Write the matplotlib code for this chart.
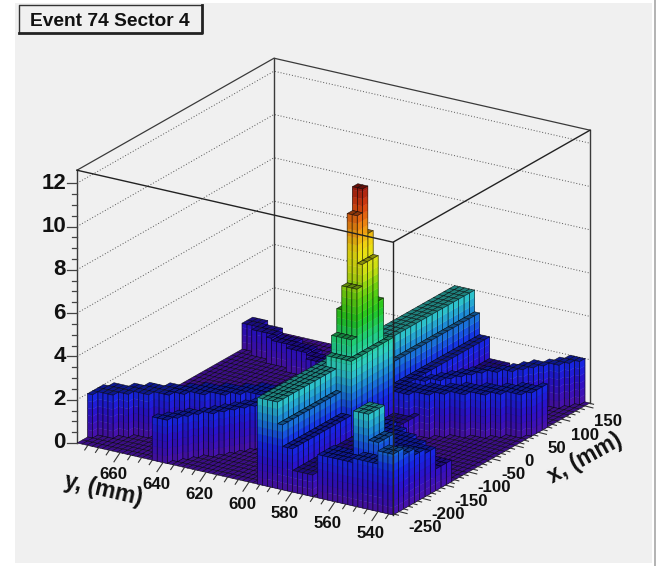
import matplotlib
matplotlib.use("Agg")
import matplotlib.pyplot as plt
import numpy as np
from matplotlib.collections import PolyCollection
from matplotlib.colors import LinearSegmentedColormap
from matplotlib.patches import Rectangle

TITLE = "Event 74 Sector 4"
Z_TICKS = [0, 2, 4, 6, 8, 10, 12]
Y_TICKS = [660, 640, 620, 600, 580, 560, 540]
X_TICKS = [-250, -200, -150, -100, -50, 0, 50, 100, 150]

Y_MAX, Y_MIN = 680.0, 533.0
X_MIN, X_MAX = -263.0, 161.0
Z_TOP = 12.6
N_ROWS, N_COLS = 63, 37

# ridge along x: height per row, starting at row 36
RIDGE_A_FIRST_ROW = 36
RIDGE_A_HEIGHTS = [4, 4, 4, 4, 3, 2, 2, 1, 1, 1, 1]

# first column of the low diagonal arm, one value per row
ARM_B_START = [3, 4, 4, 4, 5, 5, 6, 6, 6, 7, 7, 7, 8, 8, 9, 9, 9, 10, 10, 10, 11,
               11, 12, 12, 12, 13, 13, 14, 14, 14, 15, 15, 15, 16, 16, 17, 17, 17,
               18, 18, 18, 19, 19, 20, 20, 20, 21, 21, 21, 22, 22, 23, 23, 23, 24,
               24, 24, 25, 25, 26, 26, 26, 27]
ARM_B_HEIGHTS = [2, 2, 2]

# last row of the second diagonal arm, one value per column
ARM_C_END = [17, 18, 19, 20, 22, 23, 24, 25, 26, 27, 29, 30, 31, 32, 33, 34, 36, 37,
             38, 39, 40, 41, 42, 44, 46, 47, 48, 49, 50, 52, 54, 55, 56, 57, 59, 60, 61]
ARM_C_HEIGHTS = [2, 2, 2]

# back arm: first column and height per row, from row 0
ARM_D_START = [31, 31, 31, 30, 30, 30, 30, 29, 29, 29, 29, 29, 28, 28, 28, 28, 28, 27, 27, 27]
ARM_D_Z = [1.2, 1.2, 1.2, 1.2, 1.2, 1.2, 1.2, 1.2, 1.1, 1.1, 1.1, 1.1, 1.1, 1.1, 1.1, 1.1,
           1.0, 1.0, 1.0, 1.0]

# front arm: last column per row, from row 48
ARM_E_FIRST_ROW = 48
ARM_E_END = [11, 11, 11, 10, 10, 10, 9, 9, 9, 8, 8, 8, 7, 7, 7]

# peak blocks around its centre bin: height, rows across, columns across
PEAK_ROW, PEAK_COL = 40, 15
PEAK_Z = [4.5, 5.3, 6.4, 7.5, 8.5, 9.6, 10.7, 11.8]
PEAK_ROWS = [5, 4, 4, 3, 3, 2, 2, 2]
PEAK_COLS = [8, 6, 5, 4, 3, 3, 2, 1]

# separate clusters: first row, last row, first column, last column, height
BLOCK_ROW0 = [48, 53, 55, 53, 56, 60, 60, 60, 60, 58]
BLOCK_ROW1 = [52, 54, 59, 55, 57, 62, 62, 62, 62, 62]
BLOCK_COL0 = [0, 0, 0, 2, 2, 0, 2, 4, 6, 8]
BLOCK_COL1 = [2, 1, 2, 4, 4, 1, 3, 5, 7, 10]
BLOCK_Z = [2.0, 2.0, 2.2, 4.0, 2.8, 2.8, 2.5, 2.2, 2.0, 1.0]

# palette stops, height to colour
PALETTE_Z = [0, 1, 2, 3, 4, 5, 6, 7, 8, 9, 10, 11, 12]
PALETTE = ["#4a12a8", "#2c10c8", "#1428e6", "#1a80d8", "#30d0c8", "#20d080", "#20c820",
           "#60d010", "#c8e010", "#f0e010", "#f09010", "#d84010", "#901010"]


def project(x, y, z=0.0):
    """Map x, y (mm) and height to canvas pixels of the oblique view."""
    u = (Y_MAX - y) / (Y_MAX - Y_MIN)
    v = (x - X_MIN) / (X_MAX - X_MIN)
    return (77 + 316 * u + 197 * v, 443 + 72 * u - 112 * v - 21.65 * z)


def heights():
    grid = np.zeros((N_ROWS, N_COLS))
    for k, z in enumerate(RIDGE_A_HEIGHTS):
        grid[RIDGE_A_FIRST_ROW + k, :] = z
    for row, start in enumerate(ARM_B_START):
        for k, z in enumerate(ARM_B_HEIGHTS):
            col = start + k - 1
            if 0 <= col < N_COLS:
                grid[row, col] = max(grid[row, col], z)
    for col, end in enumerate(ARM_C_END):
        for k, z in enumerate(ARM_C_HEIGHTS):
            row = end - 2 + k
            if 0 <= row < N_ROWS:
                grid[row, col] = max(grid[row, col], z)
    for row, (start, z) in enumerate(zip(ARM_D_START, ARM_D_Z)):
        grid[row, start:start + 2] = np.maximum(grid[row, start:start + 2], z)
    for k, end in enumerate(ARM_E_END):
        row = ARM_E_FIRST_ROW + k
        grid[row, end - 3:end + 1] = np.maximum(grid[row, end - 3:end + 1], 2.0)
    for r0, r1, c0, c1, z in zip(BLOCK_ROW0, BLOCK_ROW1, BLOCK_COL0, BLOCK_COL1, BLOCK_Z):
        grid[r0:r1 + 1, c0:c1 + 1] = np.maximum(grid[r0:r1 + 1, c0:c1 + 1], z)
    for z, nr, nc in zip(PEAK_Z, PEAK_ROWS, PEAK_COLS):
        r0 = PEAK_ROW - nr // 2
        c0 = PEAK_COL - nc // 2
        grid[r0:r0 + nr, c0:c0 + nc] = np.maximum(grid[r0:r0 + nr, c0:c0 + nc], z)
    return grid


def main():
    plt.rcParams["font.family"] = ["Liberation Sans", "DejaVu Sans"]
    fig = plt.figure(figsize=(6.56, 5.66), dpi=100, facecolor="white")
    ax = fig.add_axes([0, 0, 1, 1])
    ax.set_xlim(0, 656)
    ax.set_ylim(566, 0)
    ax.axis("off")
    ax.add_patch(Rectangle((15, 3), 637, 560, facecolor="#f0f0f0", edgecolor="none", zorder=0))
    ax.add_patch(Rectangle((654, 0), 2, 566, facecolor="#b4b4b4", edgecolor="none", zorder=0))

    cmap = LinearSegmentedColormap.from_list(
        "lego", [(z / 12, c) for z, c in zip(PALETTE_Z, PALETTE)])

    # back walls and dotted grid
    box = "#3a3a3a"
    for z in Z_TICKS[1:]:
        pts = [project(X_MIN, Y_MAX, z), project(X_MAX, Y_MAX, z), project(X_MAX, Y_MIN, z)]
        ax.plot(*zip(*pts), color="#555555", lw=0.7, ls=(0, (1, 2)), zorder=1)
    pts = [project(X_MIN, Y_MAX, Z_TOP), project(X_MAX, Y_MAX, Z_TOP), project(X_MAX, Y_MIN, Z_TOP)]
    ax.plot(*zip(*pts), color=box, lw=0.9, zorder=1)
    ax.plot(*zip(project(X_MAX, Y_MAX, 0), project(X_MAX, Y_MAX, Z_TOP)), color=box, lw=1, zorder=1)
    ax.plot(*zip(project(X_MAX, Y_MIN, 0), project(X_MAX, Y_MIN, Z_TOP)), color=box, lw=1, zorder=1)
    ax.plot(*zip(project(X_MIN, Y_MAX, 0), project(X_MIN, Y_MAX, Z_TOP)), color=box, lw=1, zorder=1)

    grid = heights()
    y_edges = np.linspace(Y_MAX, Y_MIN, N_ROWS + 1)
    x_edges = np.linspace(X_MIN, X_MAX, N_COLS + 1)

    polys, faces, edges, widths = [], [], [], []

    def add(poly, face, edge="none", lw=0.0):
        polys.append(poly)
        faces.append(face)
        edges.append(edge)
        widths.append(lw)

    def wall(p, q, z0, z1, shade):
        levels = np.arange(np.floor(z0 * 3) / 3, z1, 1 / 3)
        for a in levels:
            lo, hi = max(a, z0), min(a + 1 / 3, z1)
            if hi <= lo:
                continue
            rgba = np.array(cmap((lo + hi) / 2 / 12))
            rgba[:3] *= shade
            add([project(*p, lo), project(*q, lo), project(*q, hi), project(*p, hi)],
                tuple(rgba), tuple(rgba), 0.25)
        add([project(*p, z0), project(*q, z0), project(*q, z1), project(*p, z1)],
            (0, 0, 0, 0), (0, 0, 0, 0.8), 0.45)

    # back to front: small rows first, high columns first
    for row in range(N_ROWS):
        for col in range(N_COLS - 1, -1, -1):
            z = grid[row, col]
            y0, y1 = y_edges[row], y_edges[row + 1]
            x0, x1 = x_edges[col], x_edges[col + 1]
            top = np.array(cmap(z / 12))
            top[:3] *= 0.8 if z == 0 else 0.62
            add([project(x0, y0, z), project(x1, y0, z), project(x1, y1, z), project(x0, y1, z)],
                tuple(top), (0, 0, 0, 0.8), 0.4)
            front = grid[row + 1, col] if row + 1 < N_ROWS else 0.0
            if z > front:
                wall((x0, y1), (x1, y1), front, z, 1.0)
            side = grid[row, col - 1] if col > 0 else 0.0
            if z > side:
                wall((x0, y0), (x0, y1), side, z, 0.9)

    ax.add_collection(PolyCollection(polys, facecolors=faces, edgecolors=edges,
                                     linewidths=widths, zorder=2))

    # front edges of the box
    front_top = [project(X_MIN, Y_MAX, Z_TOP), project(X_MIN, Y_MIN, Z_TOP), project(X_MAX, Y_MIN, Z_TOP)]
    ax.plot(*zip(*front_top), color="#222222", lw=1.0, zorder=3)
    ax.plot(*zip(project(X_MIN, Y_MIN, 0), project(X_MIN, Y_MIN, Z_TOP)), color="#222222", lw=1.0, zorder=3)

    # z axis
    for z in np.arange(0, 12.5, 0.5):
        xa, ya = project(X_MIN, Y_MAX, z)
        ax.plot([xa - (10 if z % 2 == 0 else 5), xa], [ya, ya], color="#444444", lw=0.9, zorder=3)
    for z in Z_TICKS:
        xa, ya = project(X_MIN, Y_MAX, z)
        ax.text(xa - 11, ya, str(z), ha="right", va="center", fontsize=16, fontweight="bold", color="#111111")

    # y axis ticks run along -x, labels below
    for y in np.arange(675, Y_MIN, -5):
        major = y in Y_TICKS
        xa, ya = project(X_MIN, y)
        ax.plot([xa, xa - (6 if major else 3)], [ya, ya + (9 if major else 4.5)],
                color="#333333", lw=0.8, zorder=3)
    for y in Y_TICKS:
        xa, ya = project(X_MIN, y)
        ax.text(xa - 7, ya + 22, str(y), ha="center", va="center", fontsize=12.2,
                fontweight="bold", color="#111111")

    # x axis ticks run along -y
    for x in np.arange(-260, X_MAX, 10):
        major = x in X_TICKS
        xa, ya = project(x, Y_MIN)
        ax.plot([xa, xa + (8 if major else 4)], [ya, ya + (2 if major else 1)],
                color="#333333", lw=0.8, zorder=3)
    for x in X_TICKS:
        xa, ya = project(x, Y_MIN)
        ax.text(xa + 9, ya + 16, str(x), ha="left", va="center", fontsize=12.2,
                fontweight="bold", color="#111111")

    ax.text(103, 490, "y, (mm)", rotation=-13, ha="center", va="center", fontsize=16.5,
            fontweight="bold", color="#111111", rotation_mode="anchor")
    ax.text(585, 458, "x, (mm)", rotation=29, ha="center", va="center", fontsize=16.5,
            fontweight="bold", color="#111111", rotation_mode="anchor")

    # title box with ROOT-style shadow
    ax.plot([19, 19, 201], [33, 5, 5], color="#333333", lw=1.0, zorder=4)
    ax.plot([19, 202, 202], [33, 33, 5], color="#222222", lw=2.0, zorder=4)
    ax.text(110, 21, TITLE, ha="center", va="center", fontsize=13.8, fontweight="bold",
            color="#111111", zorder=5)

    fig.savefig("out.png", dpi=100)
    plt.close(fig)


if __name__ == "__main__":
    main()
